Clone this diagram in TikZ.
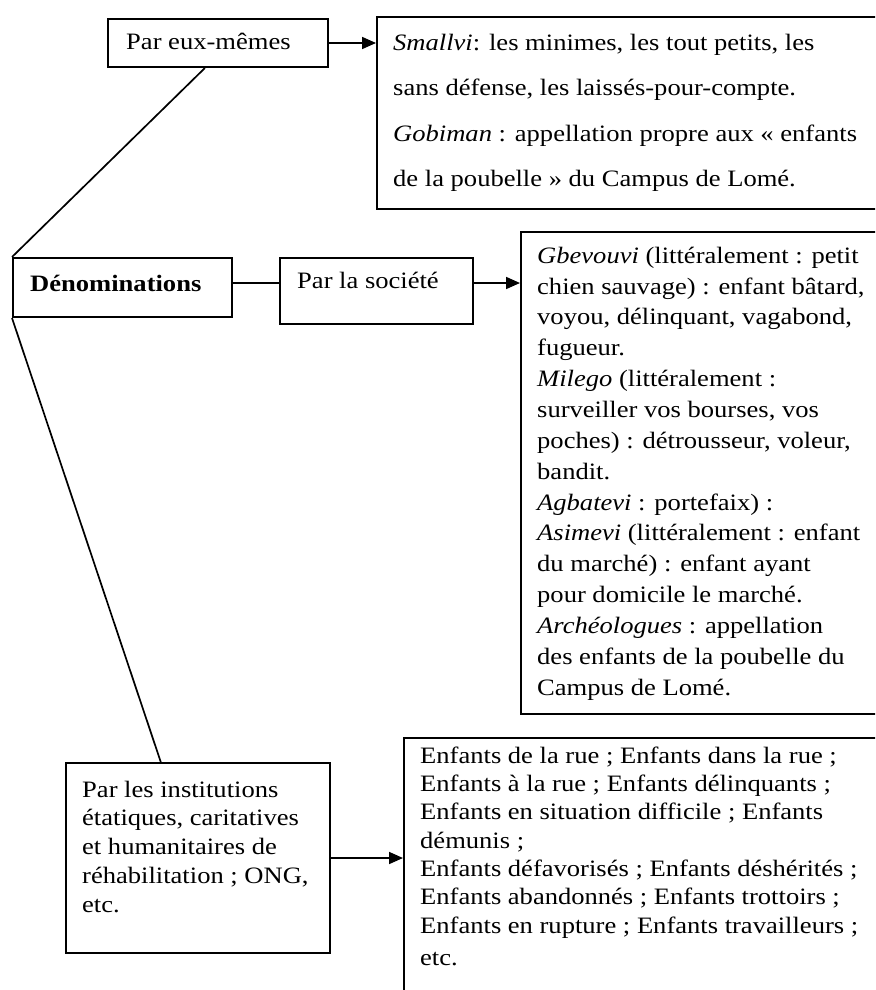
\documentclass[tikz,border=0pt]{standalone}
\usepackage{fontspec}
\setmainfont{Liberation Serif}[FakeStretch=1.13]
\usetikzlibrary{arrows.meta,calc}
\begin{document}
\begin{tikzpicture}[x=1pt,y=-1pt,
  box/.style={draw,line width=2pt,rectangle,inner sep=0pt,anchor=north west},
  txt/.style={inner sep=0pt,align=left,anchor=north west,
    font=\fontsize{23.5pt}{#1}\selectfont},
  txt/.default=30pt,
  label/.style={inner sep=0pt,anchor=base west,font=\fontsize{23.5pt}{30pt}\selectfont},
  conn/.style={line width=1.7pt},
  arr/.style={line width=1.7pt,-{Triangle[length=14pt,width=12pt]}}]
\useasboundingbox (0,0) rectangle (875,990);
\fill[white] (0,0) rectangle (875,990);
\clip (0,0) rectangle (875,990);

% boxes
\node[box,minimum width=220pt,minimum height=48pt] (eux) at (107,18) {};
\node[box,minimum width=530pt,minimum height=192pt] (small) at (376,16) {};
\node[box,minimum width=219pt,minimum height=59pt] (denom) at (12,257) {};
\node[box,minimum width=193pt,minimum height=66pt] (soc) at (279,257) {};
\node[box,minimum width=400pt,minimum height=482pt] (mid) at (520,231) {};
\node[box,minimum width=264pt,minimum height=190pt] (inst) at (65,762) {};
\node[box,minimum width=500pt,minimum height=320pt] (enf) at (403,737) {};

% texts
\node[label] (euxtxt) at (126,50) {Par eux-mêmes};
\node[label] (denomtxt) at (30,291) {\textbf{Dénominations}};
\node[label] (soctxt) at (297,288) {Par la société};

\node[txt=45.5pt] (smalltxt) at (393,32) {\rule{0pt}{18pt}\textit{Smallvi}: les minimes, les tout petits, les\\
sans défense, les laissés-pour-compte.\\
\textit{Gobiman} : appellation propre aux « enfants\\
de la poubelle » du Campus de Lomé.};

\node[txt=30.86pt] (midtxt) at (537,245) {\rule{0pt}{18pt}\textit{Gbevouvi} (littéralement : petit\\
chien sauvage) : enfant bâtard,\\
voyou, délinquant, vagabond,\\
fugueur.\\
\textit{Milego} (littéralement :\\
surveiller vos bourses, vos\\
poches) : détrousseur, voleur,\\
bandit.\\
\textit{Agbatevi} : portefaix) :\\
\textit{Asimevi} (littéralement : enfant\\
du marché) : enfant ayant\\
pour domicile le marché.\\
\textit{Archéologues} : appellation\\
des enfants de la poubelle du\\
Campus de Lomé.};

\node[txt=28.7pt] (insttxt) at (82,779) {\rule{0pt}{18pt}Par les institutions\\
étatiques, caritatives\\
et humanitaires de\\
réhabilitation ; ONG,\\
etc.};

\node[txt=28.3pt] (enftxt) at (420,745) {\rule{0pt}{18pt}Enfants de la rue ; Enfants dans la rue ;\\
Enfants à la rue ; Enfants délinquants ;\\
Enfants en situation difficile ; Enfants\\
démunis ;\\
Enfants défavorisés ; Enfants déshérités ;\\
Enfants abandonnés ; Enfants trottoirs ;\\
Enfants en rupture ; Enfants travailleurs ;\\[4.5pt]
etc.};

% connectors
\draw[conn] ($(eux.south west)!0.441!(eux.south east)$) -- (denom.north west);
\draw[conn] (denom.south west) -- ($(inst.north west)!0.36!(inst.north east)$);
\draw[conn] ([yshift=4.5pt]denom.east) -- ([yshift=4.5pt]denom.east -| soc.west);
\draw[arr] ([yshift=4.5pt]denom.east -| soc.east) -- ([yshift=4.5pt]denom.east -| mid.west);
\draw[arr] (eux.east) -- (eux.east -| small.west);
\draw[arr] (inst.east) -- (inst.east -| enf.west);
\end{tikzpicture}
\end{document}
